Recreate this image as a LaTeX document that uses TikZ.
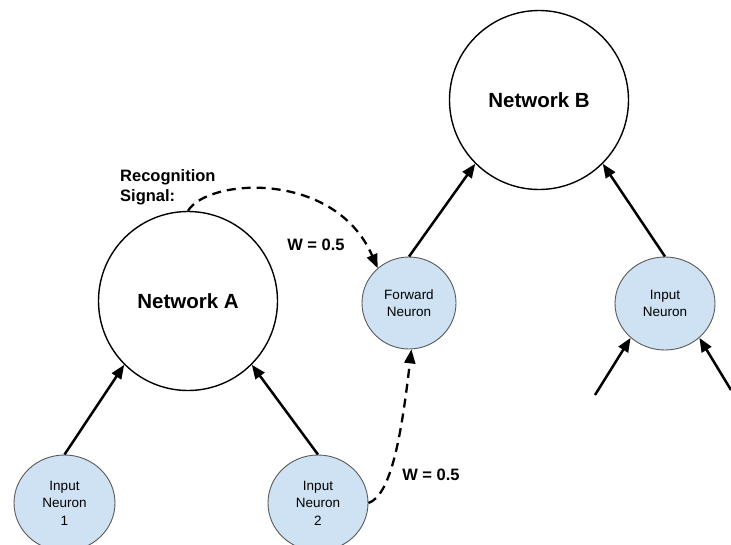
\documentclass[tikz,border=0pt]{standalone}
\usepackage{fontspec}
\setmainfont{Liberation Sans}
\usetikzlibrary{arrows.meta,shapes.geometric}
\definecolor{nfill}{HTML}{CFE2F3}
\definecolor{nline}{HTML}{595959}
\begin{document}
\begin{tikzpicture}[x=1pt,y=-1pt,
  net/.style={circle,draw=black,line width=1.4pt,fill=white,font=\fontsize{20.5}{24}\selectfont\bfseries,inner sep=0pt,minimum size=179pt},
  neuron/.style={ellipse,draw=nline,line width=0.9pt,fill=nfill,font=\fontsize{13.5}{17.5}\selectfont,align=center,inner sep=0pt},
  conn/.style={line width=2.5pt,-{Triangle[length=14pt,width=11pt]}},
  sig/.style={line width=2.3pt,dash pattern=on 9pt off 6pt,-{Triangle[length=14pt,width=11pt]}},
  lbl/.style={font=\fontsize{16.5}{20}\selectfont\bfseries,align=left,inner sep=0pt}
]
\useasboundingbox (0,0) rectangle (731,544);
\node[net] (A) at (188,301) {Network A};
\node[net] (B) at (539,100) {Network B};
\node[neuron,minimum width=94pt,minimum height=92pt] (F) at (409,303) {Forward\\Neuron};
\node[neuron,minimum width=100pt,minimum height=93pt] (R) at (665,303.5) {Input\\Neuron};
\node[neuron,minimum width=101pt,minimum height=96pt] (I1) at (64.5,503) {Input\\Neuron\\1};
\node[neuron,minimum width=100pt,minimum height=96pt] (I2) at (318,503) {Input\\Neuron\\2};
\coordinate (r1) at (595,395);
\coordinate (r2) at (731,390);
\draw[conn] (I1.north) -- (A.225);
\draw[conn] (I2.north) -- (A.315);
\draw[conn] (F.north) -- (B.225);
\draw[conn] (R.north) -- (B.315);
\draw[conn] (r1) -- (R.225);
\draw[conn] (r2) -- (R.-45);
\draw[sig] (A.north) .. controls (208,178) and (335,170) .. (F.132);
\draw[sig] (I2.east) .. controls (392,495) and (402,430) .. (F.-87);
\node[lbl,anchor=west] (rs) at (120,187) {Recognition\\Signal:};
\node[lbl] (w1) at (316,245) {W = 0.5};
\node[lbl] (w2) at (431,475) {W = 0.5};
\end{tikzpicture}
\end{document}
